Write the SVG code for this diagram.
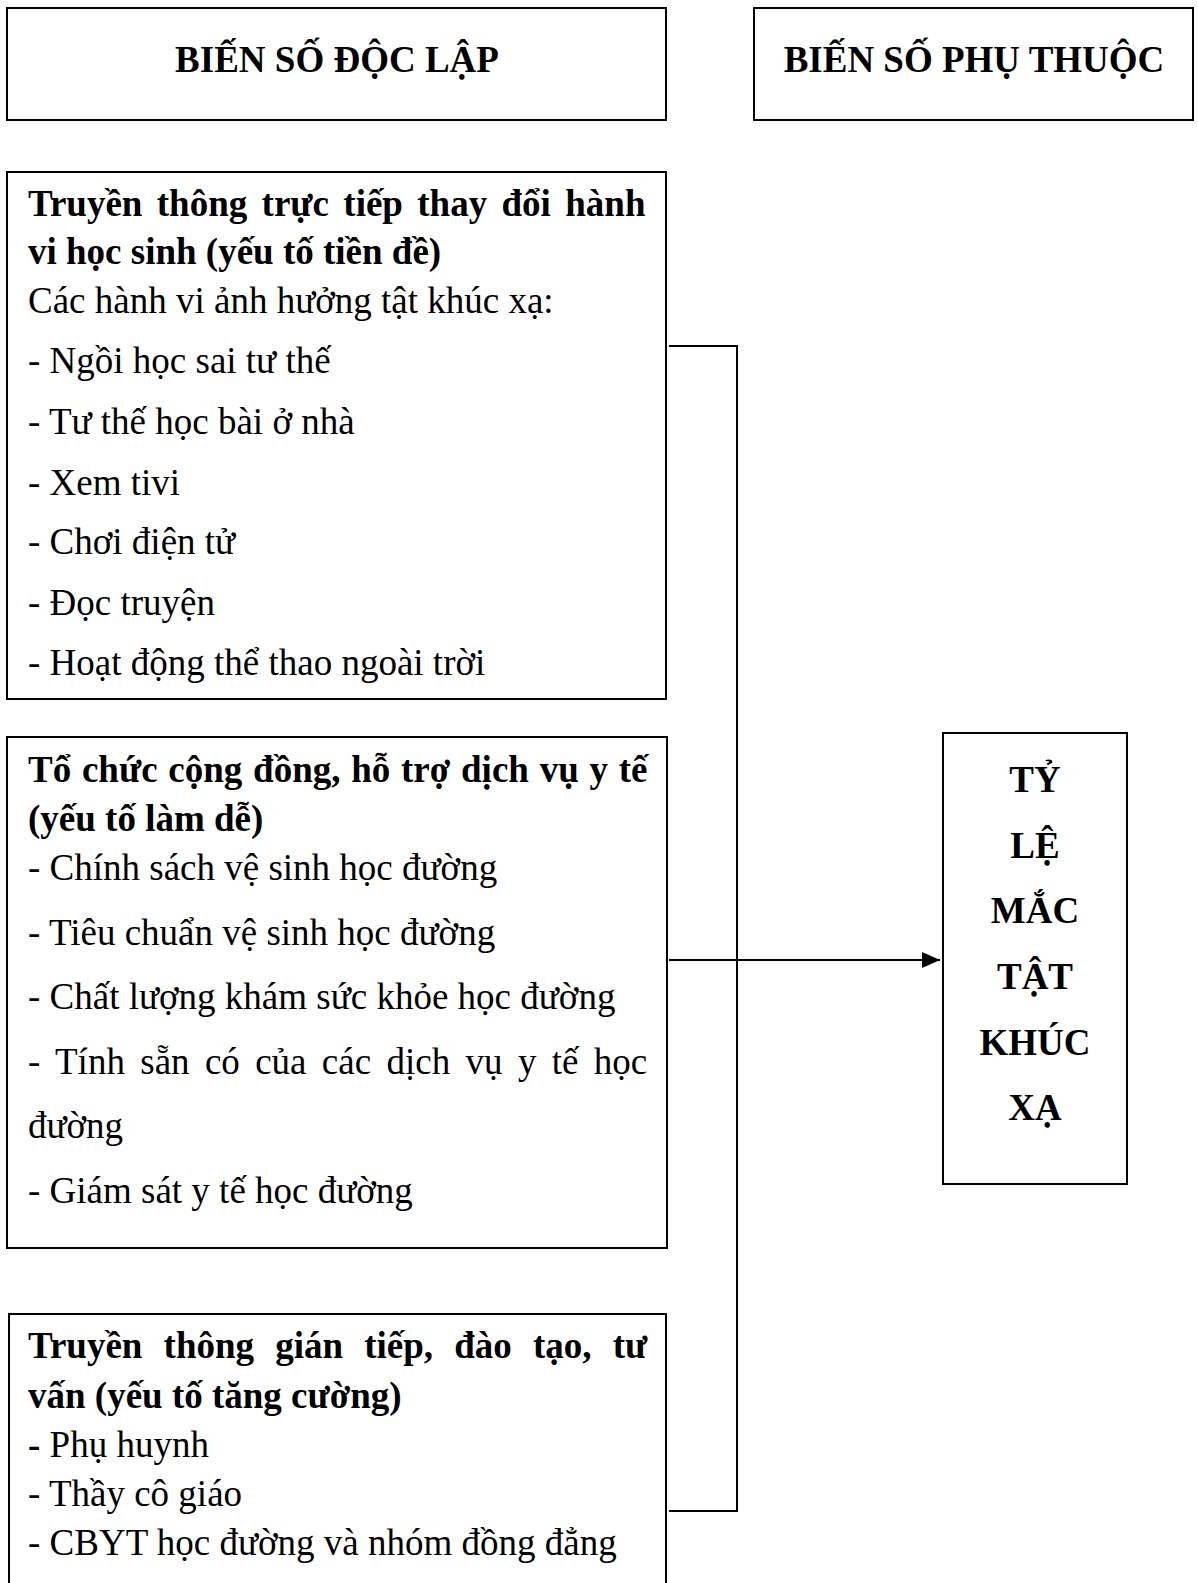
<svg xmlns="http://www.w3.org/2000/svg" width="1198" height="1583" viewBox="0 0 1198 1583">
  <style>
    .box { fill: #ffffff; stroke: #000000; stroke-width: 2; }
    .t { font-family: "Liberation Serif", "Times New Roman", serif; font-size: 37px; fill: #000000; }
    .b { font-weight: bold; }
    .c { text-anchor: middle; }
    .wire { fill: none; stroke: #000000; stroke-width: 2; }
  </style>
  <defs>
    <marker id="head" viewBox="0 0 18 16" refX="18" refY="8" markerWidth="18" markerHeight="16" markerUnits="userSpaceOnUse" orient="auto">
      <path d="M0,0 L18,8 L0,16 z" fill="#000000"/>
    </marker>
  </defs>

  <rect width="1198" height="1583" fill="#ffffff"/>

  <!-- column headers -->
  <g id="header-independent">
    <rect class="box" x="7" y="8" width="659" height="112"/>
    <text class="t b c" x="337" y="72">BIẾN SỐ ĐỘC LẬP</text>
  </g>
  <g id="header-dependent">
    <rect class="box" x="754" y="8" width="439" height="112"/>
    <text class="t b c" x="974" y="72">BIẾN SỐ PHỤ THUỘC</text>
  </g>

  <!-- predisposing factors -->
  <g id="node-predisposing">
    <rect class="box" x="7" y="172" width="659" height="527"/>
    <text class="t b" x="28" y="216" word-spacing="5.1">Truyền thông trực tiếp thay đổi hành</text>
    <text class="t b" x="28" y="264">vi học sinh (yếu tố tiền đề)</text>
    <text class="t" x="28" y="313">Các hành vi ảnh hưởng tật khúc xạ:</text>
    <text class="t" x="28" y="373">- Ngồi học sai tư thế</text>
    <text class="t" x="28" y="434">- Tư thế học bài ở nhà</text>
    <text class="t" x="28" y="495">- Xem tivi</text>
    <text class="t" x="28" y="554">- Chơi điện tử</text>
    <text class="t" x="28" y="615">- Đọc truyện</text>
    <text class="t" x="28" y="675">- Hoạt động thể thao ngoài trời</text>
  </g>

  <!-- enabling factors -->
  <g id="node-enabling">
    <rect class="box" x="7" y="737" width="660" height="511"/>
    <text class="t b" x="28" y="782" word-spacing="1.5">Tổ chức cộng đồng, hỗ trợ dịch vụ y tế</text>
    <text class="t b" x="28" y="831">(yếu tố làm dễ)</text>
    <text class="t" x="28" y="880">- Chính sách vệ sinh học đường</text>
    <text class="t" x="28" y="945">- Tiêu chuẩn vệ sinh học đường</text>
    <text class="t" x="28" y="1009">- Chất lượng khám sức khỏe học đường</text>
    <text class="t" x="28" y="1074" word-spacing="6.1">- Tính sẵn có của các dịch vụ y tế học</text>
    <text class="t" x="28" y="1138">đường</text>
    <text class="t" x="28" y="1203">- Giám sát y tế học đường</text>
  </g>

  <!-- reinforcing factors -->
  <g id="node-reinforcing">
    <rect class="box" x="9" y="1314" width="657" height="290"/>
    <text class="t b" x="28" y="1358" word-spacing="11.9">Truyền thông gián tiếp, đào tạo, tư</text>
    <text class="t b" x="28" y="1408">vấn (yếu tố tăng cường)</text>
    <text class="t" x="28" y="1457"><tspan class="b">-</tspan> Phụ huynh</text>
    <text class="t" x="28" y="1506">- Thầy cô giáo</text>
    <text class="t" x="28" y="1555">- CBYT học đường và nhóm đồng đẳng</text>
  </g>

  <!-- outcome -->
  <g id="node-outcome">
    <rect class="box" x="943" y="733" width="184" height="451"/>
    <text class="t b c" x="1035" y="792">TỶ</text>
    <text class="t b c" x="1035" y="858">LỆ</text>
    <text class="t b c" x="1035" y="923">MẮC</text>
    <text class="t b c" x="1035" y="989">TẬT</text>
    <text class="t b c" x="1035" y="1055">KHÚC</text>
    <text class="t b c" x="1035" y="1120">XẠ</text>
  </g>

  <!-- connectors: bracket joining the three factor boxes, arrow to outcome -->
  <g id="connectors">
    <polyline class="wire" points="669,346 737,346 737,1511 669,1511"/>
    <line class="wire" x1="669" y1="960" x2="737" y2="960" stroke-width="1.5"/>
    <line class="wire" x1="737" y1="960" x2="940" y2="960" stroke-width="3" marker-end="url(#head)"/>
  </g>
</svg>
